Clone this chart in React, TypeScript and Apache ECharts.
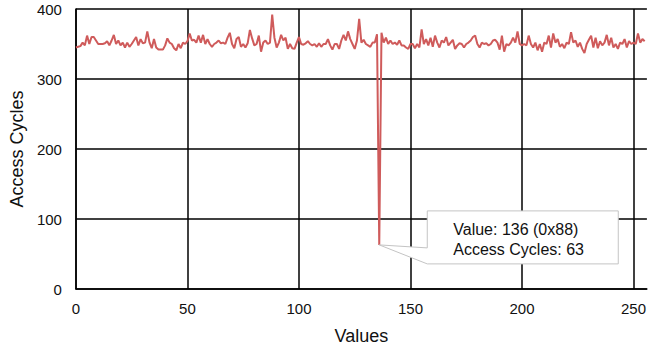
import React, { useEffect, useRef } from "react";
import * as echarts from "echarts";

const cycles: number[] = [
  345, 346, 347, 352, 348, 362, 350, 360, 360, 355,
  350, 350, 350, 351, 354, 348, 355, 363, 350, 355,
  348, 352, 345, 352, 346, 350, 355, 360, 348, 357,
  351, 352, 368, 352, 344, 357, 345, 342, 342, 342,
  348, 358, 352, 350, 344, 341, 350, 344, 352, 350,
  354, 365, 355, 356, 352, 362, 352, 363, 350, 357,
  350, 346, 350, 352, 355, 351, 352, 350, 359, 366,
  350, 344, 357, 360, 346, 350, 345, 351, 370, 358,
  348, 350, 362, 339, 352, 355, 350, 352, 392, 359,
  345, 352, 363, 355, 359, 343, 350, 344, 343, 352,
  360, 350, 349, 351, 354, 350, 348, 350, 346, 351,
  346, 350, 350, 357, 348, 342, 350, 350, 343, 355,
  363, 355, 368, 357, 350, 343, 355, 386, 352, 356,
  350, 348, 346, 352, 352, 364, 63, 366, 352, 359,
  350, 355, 350, 352, 349, 355, 348, 348, 345, 343,
  350, 350, 344, 350, 345, 371, 350, 357, 348, 359,
  346, 362, 352, 345, 355, 352, 360, 348, 352, 356,
  343, 348, 351, 350, 345, 350, 352, 355, 360, 362,
  350, 345, 352, 350, 351, 348, 350, 355, 356, 352,
  342, 362, 339, 350, 348, 352, 359, 352, 368, 350,
  348, 350, 348, 362, 350, 345, 352, 341, 350, 339,
  352, 350, 362, 345, 365, 352, 357, 346, 350, 344,
  352, 350, 367, 352, 355, 346, 352, 343, 337, 350,
  356, 362, 345, 359, 344, 354, 348, 352, 363, 348,
  359, 345, 350, 343, 352, 350, 357, 345, 354, 350,
  352, 350, 365, 352, 357, 354,
];

const xTicks = [0, 50, 100, 150, 200, 250];
const yTicks = [0, 100, 200, 300, 400];
const highlightIndex = 136;

const FONT = "'Liberation Sans', Arial, sans-serif";

export default function App() {
  const ref = useRef<HTMLDivElement>(null);

  useEffect(() => {
    if (!ref.current) return;
    const chart = echarts.init(ref.current, undefined, { renderer: "svg" });
    const data = cycles.map((v, i) => [i, v]);
    chart.setOption({
      animation: false,
      grid: { left: 75, right: 2, top: 9, bottom: 59 },
      xAxis: {
        type: "value",
        min: xTicks[0],
        max: 256,
        interval: 50,
        name: "Values",
        nameLocation: "middle",
        nameGap: 38,
        nameTextStyle: { fontFamily: FONT, fontSize: 18, color: "#111" },
        axisLine: { show: true, lineStyle: { color: "#000", width: 1.5 } },
        axisTick: { show: false },
        axisLabel: {
          fontFamily: FONT,
          fontSize: 15,
          color: "#111",
          margin: 12,
          showMaxLabel: false,
        },
        splitLine: { show: true, showMaxLine: false, lineStyle: { color: "#000", width: 1.5 } },
      },
      yAxis: {
        type: "value",
        min: yTicks[0],
        max: yTicks[yTicks.length - 1],
        interval: 100,
        name: "Access Cycles",
        nameLocation: "middle",
        nameGap: 48,
        nameTextStyle: { fontFamily: FONT, fontSize: 18, color: "#111" },
        axisLine: { show: true, lineStyle: { color: "#000", width: 1.5 } },
        axisTick: { show: false },
        axisLabel: { fontFamily: FONT, fontSize: 15, color: "#111", margin: 14 },
        splitLine: { show: true, lineStyle: { color: "#000", width: 1.5 } },
      },
      series: [
        {
          type: "line",
          data,
          symbol: "none",
          lineStyle: { color: "#cf5b5b", width: 2 },
          itemStyle: { color: "#cf5b5b" },
        },
      ],
    });

    const hv = cycles[highlightIndex];
    const tip = chart.convertToPixel({ xAxisIndex: 0, yAxisIndex: 0 }, [highlightIndex, hv]) as number[];
    const tx = tip[0];
    const ty = tip[1];
    const L = tx + 48;
    const R = tx + 239;
    const T = ty - 34;
    const B = ty + 19;
    const hex = "0x" + highlightIndex.toString(16);
    chart.setOption({
      graphic: [
        {
          type: "polygon",
          shape: {
            points: [
              [L, T],
              [R, T],
              [R, B],
              [L, B],
              [tx, ty],
              [L, ty + 3],
            ],
          },
          style: { fill: "#fff", stroke: "#c4c4c4", lineWidth: 1 },
          z: 100,
        },
        {
          type: "text",
          x: L + 26,
          y: ty - 15,
          style: {
            text: `Value: ${highlightIndex} (${hex})`,
            fontFamily: FONT,
            fontSize: 16,
            fill: "#111",
            verticalAlign: "middle",
          },
          z: 101,
        },
        {
          type: "text",
          x: L + 26,
          y: ty + 5,
          style: {
            text: `Access Cycles: ${hv}`,
            fontFamily: FONT,
            fontSize: 16,
            fill: "#111",
            verticalAlign: "middle",
          },
          z: 101,
        },
      ],
    });

    return () => chart.dispose();
  }, []);

  return <div ref={ref} style={{ width: 649, height: 350, position: "absolute", left: 0, top: 0 }} />;
}
